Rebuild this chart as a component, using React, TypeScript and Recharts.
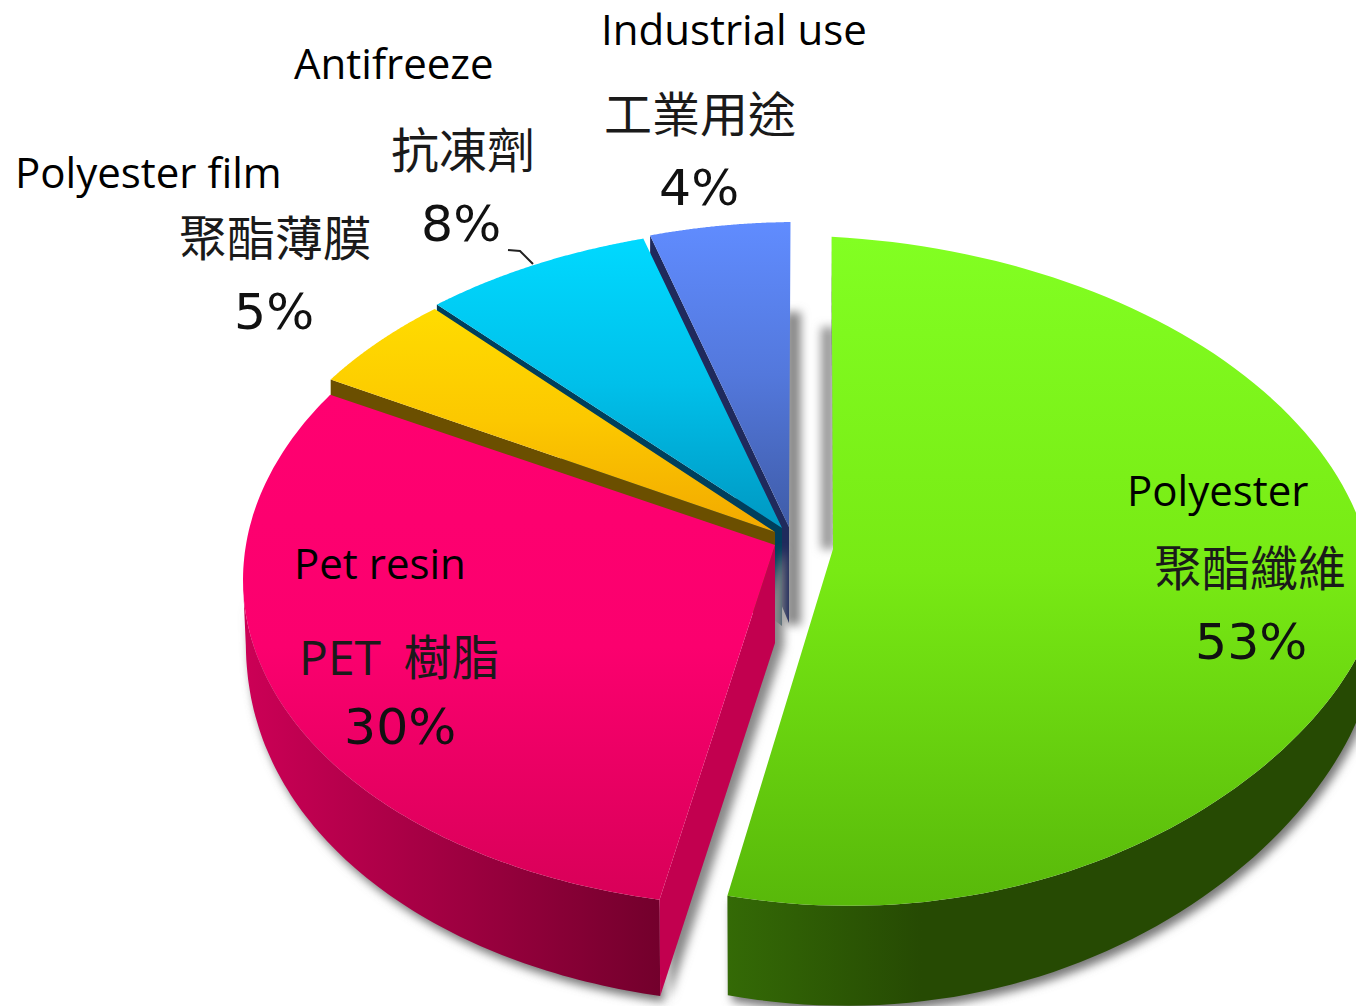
import { PieChart, Pie } from 'recharts'

const names = ['Industrial use', 'Antifreeze', 'Polyester film', 'Pet resin', 'Polyester']
const namesZh = ['工業用途', '抗凍劑', '聚酯薄膜', 'PET 樹脂', '聚酯纖維']
const shares = [4, 8, 5, 30, 53]

// where each label group sits: [en x, en y, zh x, zh y, pct x, pct y]
const LABEL_POS = [
  [601, 45, 604, 132, 659, 205],
  [294, 79, 391, 168, 421, 241],
  [15, 188, 179, 256, 234, 329],
  [294, 579, 299, 675, 344, 744],
  [1127, 506, 1154, 586, 1195, 659],
]

const LATIN = '"Open Sans", "Noto Sans CJK TC", sans-serif'
const DIGITS = '"DejaVu Sans", sans-serif'

// the picture is in perspective, so every slice gets its own rim curve
const SLICES: Record<string, any> = {
  'Industrial use': {
    cx: 800, rx: 547, upper: [572, 350, 0], lower: [572, 350, 0], lowPow: 1, warp: [1, 1.5],
    apex: [789, 527], apexDepth: 96, side: 60, bottom: 60, depthPow: 1, scale: 1,
    top: ['#608cff', '#5378dc', '#3f5ca8'], wall: ['#1f2a5c', '#1f2a5c'], cut: '#1f2a5c',
  },
  Antifreeze: {
    cx: 795, rx: 547, upper: [548, 322, 0], lower: [548, 322, 0], lowPow: 1, warp: [1.7, -2.3],
    apex: [782, 528], apexDepth: 98, side: 60, bottom: 60, depthPow: 1, scale: 1,
    top: ['#00d9ff', '#00c0ea', '#0098c2'], wall: ['#003f5c', '#003f5c'], cut: '#003f5c',
  },
  'Polyester film': {
    cx: 790, rx: 547, upper: [556, 325, 0], lower: [556, 325, 0], lowPow: 1, warp: [-2.7, -4.1],
    apex: [775, 532], apexDepth: 90, side: 60, bottom: 60, depthPow: 1, scale: 1,
    top: ['#ffdc00', '#fcc800', '#f2a900'], wall: ['#6b4f00', '#6b4f00'], cut: '#6b4f00',
  },
  'Pet resin': {
    cx: 790, rx: 547, upper: [570, 339, -10], lower: [570, 337, -10], lowPow: 1, warp: [-4, -3],
    apex: [775, 545], apexDepth: 98, side: 55, bottom: 97, depthPow: 0.5, scale: 0.995,
    top: ['#ff0070', '#fb006e', '#d80058'], wall: ['#cc0056', '#73002c'], cut: '#c2004f',
  },
  Polyester: {
    cx: 815, rx: 560, upper: [583, 347, 20], lower: [577, 328, 26], lowPow: 1.3, warp: [1.8, -1.7],
    apex: [833, 549], apexDepth: 0, side: 60, bottom: 100, depthPow: 1, scale: 0.995,
    top: ['#82ff22', '#78ea14', '#58b80a'], wall: ['#346a06', '#264a03'], cut: '#346a06',
  },
}

const chartData = names.map((name, i) => ({ name, value: shares[i] }))

function rimPoint(g: any, deg: number) {
  const t = (deg * Math.PI) / 180
  const cos = Math.cos(t)
  const sin = Math.sin(t)
  if (sin >= 0) {
    const [cy, ry, k] = g.upper
    return { x: g.cx + g.rx * cos, y: cy - ry * sin + k * cos, sin }
  }
  const [cy, ry, k] = g.lower
  return { x: g.cx + g.rx * cos, y: cy + ry * Math.pow(-sin, g.lowPow) + k * cos, sin }
}

function dropPoint(g: any, deg: number) {
  const p = rimPoint(g, deg)
  const d = p.sin < 0 ? g.side + (g.bottom - g.side) * Math.pow(-p.sin, g.depthPow) : g.side
  return { x: g.cx + (p.x - g.cx) * g.scale, y: p.y + d }
}

const toPath = (pts: { x: number; y: number }[]) =>
  'M' + pts.map((p) => `${p.x.toFixed(1)},${p.y.toFixed(1)}`).join('L') + 'Z'

function Slice3D(props: any) {
  const g = SLICES[props.name]
  const id = props.name.replace(/\s/g, '')
  const a0 = props.startAngle + g.warp[0]
  const a1 = props.endAngle + g.warp[1]
  const apex = { x: g.apex[0], y: g.apex[1] }

  const degs: number[] = []
  const steps = 120
  for (let i = 0; i <= steps; i++) degs.push(a0 + ((a1 - a0) * i) / steps)

  const rim = degs.map((d) => rimPoint(g, d))
  const face = [apex, ...rim]
  const lowDegs = degs.filter((d) => Math.sin((d * Math.PI) / 180) < 0)
  const wall = lowDegs.length > 1
    ? [...lowDegs.map((d) => rimPoint(g, d)), ...lowDegs.slice().reverse().map((d) => dropPoint(g, d))]
    : null
  const cut = [apex, rimPoint(g, a1), dropPoint(g, a1), { x: apex.x, y: apex.y + g.apexDepth }]
  const blur = `url(#blur-${id})`

  return (
    <g>
      <defs>
        <linearGradient id={`top-${id}`} x1="0" y1="0" x2="0" y2="1">
          <stop offset="0%" stopColor={g.top[0]} />
          <stop offset="50%" stopColor={g.top[1]} />
          <stop offset="100%" stopColor={g.top[2]} />
        </linearGradient>
        <linearGradient id={`wall-${id}`} x1="0" y1="0" x2="1" y2="0">
          <stop offset="0%" stopColor={g.wall[0]} />
          <stop offset={props.name === 'Polyester' ? '30%' : '100%'} stopColor={g.wall[1]} />
        </linearGradient>
        <filter id={`blur-${id}`} filterUnits="userSpaceOnUse" x="0" y="0" width="1400" height="1100">
          <feGaussianBlur stdDeviation="5" />
        </filter>
      </defs>

      {/* soft shadow on the page */}
      {props.name === 'Industrial use' && (
        <rect x={apex.x - 4} y={apex.y - 215} width={16} height={313} fill="#888" filter={blur} />
      )}
      {props.name === 'Polyester' && (
        <rect x={apex.x - 12} y={apex.y - 222} width={14} height={222} fill="#999" filter={blur} />
      )}
      {wall && <path d={toPath(wall)} transform="translate(4,6)" fill="#777" filter={blur} />}
      {props.name === 'Pet resin' && (
        <path d={toPath(cut)} transform="translate(9,3)" fill="#888" filter={blur} />
      )}

      {wall && <path d={toPath(wall)} fill={`url(#wall-${id})`} />}
      <path d={toPath(cut)} fill={g.cut} />
      <path d={toPath(face)} fill={`url(#top-${id})`} />
    </g>
  )
}

function SliceLabel(props: any) {
  const i = names.indexOf(props.name)
  const p = LABEL_POS[i]
  return (
    <g>
      <text x={p[0]} y={p[1]} fontSize={42} fontFamily={LATIN} fill="#000">{names[i]}</text>
      <text x={p[2]} y={p[3]} fontSize={48} fontFamily={LATIN} wordSpacing={10} fill="#1a1a1a">{namesZh[i]}</text>
      <text x={p[4]} y={p[5]} fontSize={50.5} fontFamily={DIGITS} fill="#111">{shares[i]}%</text>
    </g>
  )
}

export default function App() {
  return (
    <div style={{ position: 'absolute', left: 0, top: 0, width: 1356, height: 1006, overflow: 'hidden', background: '#fff' }}>
      <PieChart width={1356} height={1006} margin={{ top: 0, right: 0, bottom: 0, left: 0 }}>
        <path d="M508,250 L520,251 L533,264" fill="none" stroke="#222" strokeWidth={2} />
        <Pie
          data={chartData}
          dataKey="value"
          nameKey="name"
          cx={800}
          cy={560}
          outerRadius={540}
          startAngle={90}
          endAngle={450}
          stroke="none"
          shape={Slice3D}
          label={SliceLabel}
          labelLine={false}
          isAnimationActive={false}
        />
      </PieChart>
    </div>
  )
}
